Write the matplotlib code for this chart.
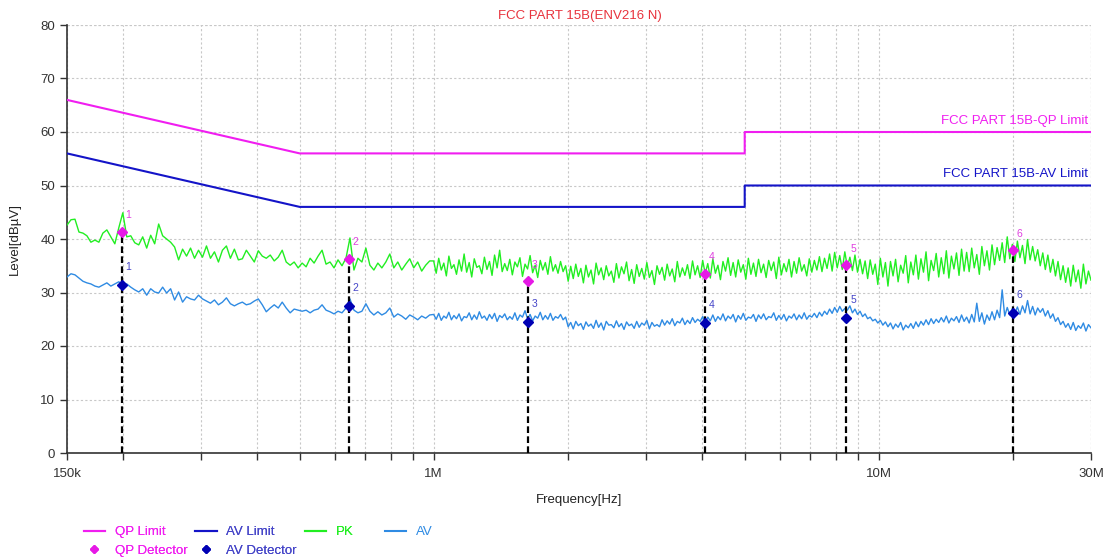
import numpy as np
import matplotlib
matplotlib.use("Agg")
import matplotlib.pyplot as plt
from matplotlib.lines import Line2D

plt.rcParams['font.family'] = ['Liberation Sans', 'DejaVu Sans']

# ---------------- data ----------------
title = "FCC PART 15B(ENV216 N)"
x_tick_vals = [150e3, 1e6, 10e6, 30e6]
x_tick_labels = ["150k", "1M", "10M", "30M"]
x_minor_vals = [2e5, 3e5, 4e5, 5e5, 6e5, 7e5, 8e5, 9e5,
                2e6, 3e6, 4e6, 5e6, 6e6, 7e6, 8e6, 9e6, 2e7]
y_ticks = [0, 10, 20, 30, 40, 50, 60, 70, 80]

# limit lines (frequency, level)
qp_limit_f = [150e3, 500e3, 5e6, 5e6, 30e6]
qp_limit_v = [66, 56, 56, 60, 60]
av_limit_f = [150e3, 500e3, 5e6, 5e6, 30e6]
av_limit_v = [56, 46, 46, 50, 50]

# detector results
det_freq = [0.199e6, 0.645e6, 1.63e6, 4.07e6, 8.45e6, 20.0e6]
qp_values = [41.3, 36.3, 32.1, 33.5, 35.1, 37.9]
av_values = [31.4, 27.5, 24.5, 24.3, 25.2, 26.2]
det_labels = ["1", "2", "3", "4", "5", "6"]

# PK trace, 150k - 1M
pk_low = [42.6, 43.6, 43.7, 41.3, 41.1, 40.6, 39.4, 39.8, 39.4, 41.1,
          41.7, 40.4, 39.1, 42.1, 44.9, 40.4, 40.6, 39.3, 38.9, 40.4,
          38.3, 40.7, 39.1, 42.8, 40.6, 40.0, 39.4, 38.5, 36.1, 38.1,
          36.8, 38.3, 36.4, 37.9, 36.6, 38.7, 36.4, 37.6, 35.7, 37.9,
          38.7, 36.4, 38.1, 36.1, 36.3, 37.9, 36.8, 35.7, 37.8, 36.8,
          36.4, 37.0, 35.9, 36.6, 37.9, 35.7, 35.1, 35.7, 34.6, 35.5,
          34.8, 36.4, 35.5, 36.8, 37.9, 35.3, 35.7, 34.6, 36.1, 35.0,
          36.4, 40.2, 34.2, 36.4, 35.7, 38.3, 35.1, 34.2, 35.5, 34.6,
          35.7, 37.2, 34.6, 35.7, 34.2, 35.3, 36.3, 34.6, 35.7, 34.0,
          35.1, 35.9]
# AV trace, 150k - 1M
av_low = [32.9, 33.5, 33.3, 32.7, 32.1, 31.8, 31.6, 31.2, 31.0, 31.4,
          31.8, 31.2, 31.6, 32.0, 31.4, 31.6, 31.0, 30.5, 30.1, 30.7,
          29.5, 30.7, 30.1, 29.9, 31.0, 29.9, 30.7, 28.6, 30.1, 28.2,
          29.2, 28.8, 28.6, 29.5, 28.8, 28.4, 28.0, 28.6, 27.7, 28.2,
          29.0, 27.9, 27.5, 27.9, 28.2, 27.7, 27.9, 28.4, 28.8, 27.7,
          26.4, 27.1, 27.7, 27.1, 28.2, 27.1, 26.2, 26.9, 26.7, 26.5,
          26.7, 26.2, 26.7, 26.9, 27.7, 26.7, 26.4, 26.0, 26.5, 26.2,
          27.1, 28.8, 26.7, 26.2, 26.5, 27.9, 26.5, 25.8, 26.4, 25.8,
          26.2, 27.1, 25.4, 26.0, 25.6, 25.0, 25.8, 25.4, 24.9, 25.6,
          25.2, 25.8]

# PK trace, 1M - 30M
pk_high = [35.9, 33.6, 36.4, 34.2, 35.5, 33.1, 36.8, 34.5, 35.2, 33.4,
           36.1, 34.0, 37.2, 33.8, 35.6, 32.9, 36.3, 34.7, 35.0, 33.5,
           36.6, 34.3, 35.8, 33.2, 37.0, 34.6, 37.9, 33.9, 35.4, 34.1,
           36.2, 33.3, 35.7, 34.8, 36.5, 33.0, 35.3, 34.4, 36.9, 33.7,
           35.1, 32.8, 36.0, 34.2, 35.6, 33.4, 36.7, 34.0, 35.2, 33.6,
           35.8, 33.9, 35.0, 32.1, 34.9, 32.6, 35.3, 33.0, 34.5, 31.8,
           35.1, 32.9, 34.2, 31.6, 35.5, 33.3, 34.6, 32.4, 35.0, 33.1,
           34.0, 31.9, 35.4, 32.7, 34.8, 33.5, 35.7, 32.2, 34.3, 31.7,
           35.2, 33.0, 34.5, 32.5, 35.6, 32.8, 34.1, 31.5, 35.0, 33.4,
           34.7, 32.3, 35.3, 33.1, 34.4, 32.0, 35.8, 32.9, 34.6, 33.2,
           35.2, 32.6, 35.9, 33.3, 35.0, 32.8, 36.0, 33.5, 35.4, 32.7,
           36.3, 33.6, 35.1, 32.4, 35.8, 34.0, 36.5, 33.2, 35.6, 32.9,
           36.1, 33.8, 35.2, 32.5, 36.4, 33.4, 35.5, 33.0, 36.2, 33.7,
           35.3, 32.8, 36.0, 34.1, 35.7, 32.6, 36.6, 33.3, 35.4, 33.9,
           36.2, 32.9, 35.8, 33.6, 36.5, 34.0, 35.2, 33.1, 36.3, 33.8,
           36.0, 34.2, 36.7, 33.9, 36.4, 34.5, 37.2, 34.0, 37.5, 34.6,
           36.9, 34.3, 37.6, 34.8, 36.6, 34.1, 37.0, 33.8, 36.2, 33.5,
           35.9, 32.6, 36.1, 33.4, 35.3, 31.5, 36.4, 32.9, 35.6, 31.2,
           35.8, 33.1, 36.2, 32.0, 35.1, 33.6, 36.9, 31.8, 35.7, 33.3,
           37.0, 32.5, 36.3, 33.8, 37.6, 32.2, 36.0, 34.1, 37.3, 32.9,
           36.5, 33.5, 37.8, 32.7, 36.8, 34.4, 37.4, 33.2, 38.1, 34.0,
           37.5, 33.9, 38.3, 34.6, 37.1, 33.4, 38.6, 35.0, 37.8, 34.2,
           38.9, 35.2, 38.4, 36.0, 39.3, 35.6, 40.4, 36.3, 39.0, 35.8,
           39.6, 36.5, 38.8, 35.4, 39.9, 36.1, 38.6, 35.9, 38.0, 35.0,
           37.4, 34.3, 37.0, 33.8, 36.2, 33.1, 35.8, 32.4, 35.0, 31.9,
           34.6, 31.2, 35.1, 32.0, 34.2, 30.8, 35.3, 31.6, 34.0, 32.3]
# AV trace, 1M - 30M
av_high = [25.9, 25.0, 26.1, 24.8, 25.6, 25.2, 26.3, 24.9, 25.7, 25.1,
           26.0, 24.7, 25.5, 25.3, 26.2, 24.9, 25.8, 25.0, 26.4, 25.2,
           25.6, 24.8, 25.9, 25.1, 26.1, 24.6, 25.7, 25.3, 26.0, 24.9,
           25.5, 25.0, 26.2, 24.8, 25.8, 25.4, 26.6, 25.1, 25.9, 24.7,
           25.6, 25.2, 26.3, 24.9, 25.7, 25.0, 26.1, 24.8, 25.5, 25.2,
           25.9, 24.9, 25.4, 23.6, 24.4, 23.2, 24.6, 23.8, 24.2, 23.1,
           24.5, 23.7, 24.1, 23.3, 24.8, 23.5, 24.3, 23.0, 24.6, 23.9,
           24.0, 23.4, 24.7, 23.6, 24.2, 23.1, 24.5, 23.8, 24.1, 23.3,
           24.6, 23.5, 24.3, 23.9, 24.8, 23.2, 24.4, 23.7, 24.0, 23.6,
           24.9, 23.9, 24.7, 24.1, 25.1, 23.8, 24.6, 24.3, 25.2, 24.0,
           24.8, 24.2, 25.3, 24.4, 25.0, 24.6, 25.5, 24.3, 25.4, 24.7,
           25.8, 24.6, 25.5, 24.9, 26.0, 24.7, 25.6, 25.1, 25.9, 24.5,
           25.7, 25.0, 26.1, 24.8, 25.4, 25.2, 25.9, 24.6, 25.8, 25.1,
           26.0, 24.9, 25.5, 25.3, 26.2, 24.8, 25.7, 25.0, 25.9, 24.7,
           25.6, 25.2, 26.0, 24.9, 25.8, 25.1, 26.2, 25.0, 25.7, 25.4,
           26.1, 25.3, 26.3, 25.6, 26.5, 25.9, 26.9, 26.1, 27.2, 26.3,
           27.4, 26.5, 27.0, 26.7, 27.5, 26.2, 26.9, 25.9, 26.5, 25.5,
           26.0, 25.1, 25.4, 24.7, 25.0, 24.3, 24.8, 23.9, 24.5, 23.6,
           24.3, 23.2, 24.1, 23.5, 24.4, 23.0, 23.9, 23.4, 24.2, 23.3,
           24.5, 23.6, 24.6, 23.9, 24.9, 24.0, 25.1, 24.2, 25.0, 24.4,
           25.3, 24.5, 25.6, 24.3, 25.2, 24.7, 25.5, 24.4, 25.8, 24.6,
           25.4, 24.3, 25.9, 24.5, 28.0, 24.6, 26.2, 24.1, 25.8, 24.8,
           26.4, 24.9, 26.7, 25.3, 30.5, 25.6, 27.2, 25.8, 27.0, 26.1,
           27.3, 25.9, 27.5, 26.2, 28.5, 26.0, 27.4, 25.8, 27.1, 26.3,
           27.0, 25.6, 26.6, 25.2, 26.0, 24.6, 25.3, 24.0, 24.6, 23.5,
           24.2, 23.1, 24.4, 22.9, 23.8, 23.3, 24.3, 22.8, 24.0, 23.4]

# ---------------- styles ----------------
C_QP = "#f01ef0"
C_AVL = "#1414c8"
C_PK = "#22ee22"
C_AV = "#2f8be3"
C_QPD = "#e619e6"
C_AVD = "#0000b4"
C_QP_TXT = "#e040e0"
C_AV_TXT = "#4545c8"

fig = plt.figure(figsize=(11.08, 5.60), dpi=100)
ax = fig.add_axes([67/1108, 1-453/560, (1091-67)/1108, (453-25)/560])

f_pk_low = np.geomspace(150e3, 1e6, len(pk_low), endpoint=False)
f_av_low = np.geomspace(150e3, 1e6, len(av_low), endpoint=False)
f_pk_high = np.geomspace(1e6, 30e6, len(pk_high))
f_av_high = np.geomspace(1e6, 30e6, len(av_high))

ax.plot(np.concatenate([f_pk_low, f_pk_high]), pk_low + pk_high, color=C_PK, lw=1.0, zorder=3)
ax.plot(np.concatenate([f_av_low, f_av_high]), av_low + av_high, color=C_AV, lw=1.0, zorder=3)

ax.plot(qp_limit_f, qp_limit_v, color=C_QP, lw=1.5, zorder=4)
ax.plot(av_limit_f, av_limit_v, color=C_AVL, lw=1.5, zorder=4)

for f, q, a, lab in zip(det_freq, qp_values, av_values, det_labels):
    ax.plot([f, f], [0, q], color="black", lw=1.6, ls=(0, (3, 1.5)), zorder=5)
    ax.annotate(lab, (f, q), xytext=(5, 12), textcoords="offset points",
                color=C_QP_TXT, fontsize=7.5, ha="center", va="center", zorder=6)
    ax.annotate(lab, (f, a), xytext=(5, 13), textcoords="offset points",
                color=C_AV_TXT, fontsize=7.5, ha="center", va="center", zorder=6)
ax.plot(det_freq, qp_values, ls="none", marker="D", ms=5, color=C_QPD, zorder=7)
ax.plot(det_freq, av_values, ls="none", marker="D", ms=5, color=C_AVD, zorder=7)

ax.text(29.5e6, 61.0, "FCC PART 15B-QP Limit", color=C_QP, fontsize=9.5, ha="right", va="bottom")
ax.text(29.5e6, 51.0, "FCC PART 15B-AV Limit", color=C_AVL, fontsize=9.5, ha="right", va="bottom")

ax.set_xscale("log")
ax.set_xlim(150e3, 30e6)
ax.set_ylim(0, 80)
ax.set_xticks(x_tick_vals)
ax.set_xticklabels(x_tick_labels)
ax.set_xticks(x_minor_vals, minor=True)
ax.set_xticklabels([], minor=True)
ax.set_yticks(y_ticks)
ax.tick_params(axis="both", which="both", direction="out", length=5, width=1,
               colors="#333333", labelsize=9.5, labelcolor="#333333")
ax.tick_params(axis="x", which="major", pad=6)
ax.grid(True, which="major", color="#c8c8c8", lw=0.8, ls=(0, (2, 2)))
ax.grid(True, which="minor", axis="x", color="#c8c8c8", lw=0.8, ls=(0, (2, 2)))
ax.set_axisbelow(True)
for s in ["top", "right"]:
    ax.spines[s].set_visible(False)
for s in ["left", "bottom"]:
    ax.spines[s].set_color("#333333")
    ax.spines[s].set_linewidth(1.2)
ax.axhline(80, color="#c8c8c8", lw=0.8, ls=(0, (2, 2)))
ax.axvline(30e6, color="#c8c8c8", lw=0.8, ls=(0, (2, 2)))

ax.set_xlabel("Frequency[Hz]", fontsize=9.5, color="#222222", labelpad=10)
ax.set_ylabel("Level[dBµV]", fontsize=9.5, color="#222222", labelpad=14)
fig.text(580/1108, 1-16/560, title, color="#e8323c", fontsize=9.5, ha="center", va="center")

# legend (two pieces so the last column sits where the reference has it)
handles1 = [
    Line2D([], [], color=C_QP, lw=1.5),
    Line2D([], [], ls="none", marker="D", ms=4, color=C_QPD),
    Line2D([], [], color=C_AVL, lw=1.5),
    Line2D([], [], ls="none", marker="D", ms=4, color=C_AVD),
    Line2D([], [], color=C_PK, lw=1.5),
]
labels1 = ["QP Limit", "QP Detector", "AV Limit", "AV Detector", "PK"]
leg_kw = dict(frameon=False, fontsize=9.5, handlelength=1.6, handletextpad=0.75,
              columnspacing=0.6, labelspacing=0.45, borderaxespad=0.2)
leg1 = fig.legend(handles1, labels1, ncol=3, loc="lower left",
                  bbox_to_anchor=(76/1108, -0.008), **leg_kw)
for txt, col in zip(leg1.get_texts(), [C_QP, C_QP, C_AV_TXT, C_AV_TXT, C_PK]):
    txt.set_color(col)
leg2 = fig.legend([Line2D([], [], color=C_AV, lw=1.5)], ["AV"], loc="upper left",
                  bbox_to_anchor=(377/1108, 1-518/560), **leg_kw)
leg2.get_texts()[0].set_color(C_AV)
fig.add_artist(leg1)

fig.savefig("out.png", dpi=100)
